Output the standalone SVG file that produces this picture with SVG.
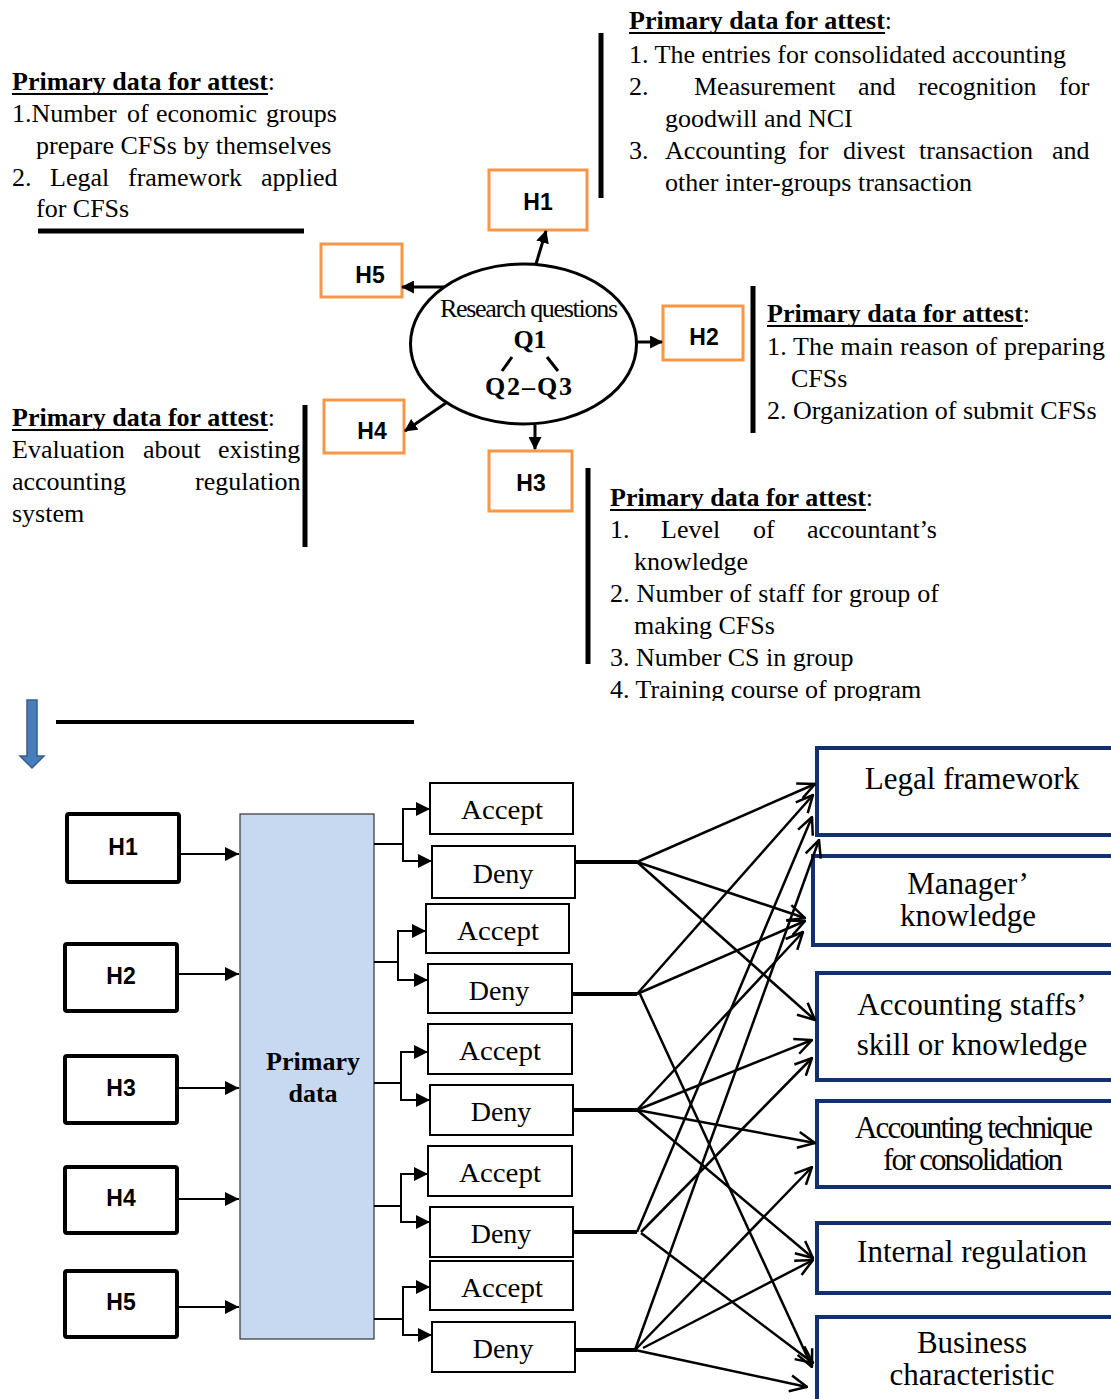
<svg xmlns="http://www.w3.org/2000/svg" width="1111" height="1399" viewBox="0 0 1111 1399">
  <style>
    .t { font-family: "Liberation Serif", "Times New Roman", serif; font-size: 26px; fill: #000; }
    .b { font-weight: bold; }
    .ul { stroke: #000; stroke-width: 2; }
    .bar { stroke: #000; stroke-width: 5; fill: none; }
    .hq { fill: #fff; stroke: #F79646; stroke-width: 3; }
    .hl { font-family: "Liberation Sans", Arial, sans-serif; font-weight: bold; font-size: 23px; fill: #000; text-anchor: middle; }
    .hb { fill: #fff; stroke: #000; stroke-width: 4; }
    .ad { fill: #fff; stroke: #000; stroke-width: 2; }
    .adt { font-family: "Liberation Serif", "Times New Roman", serif; font-size: 28px; fill: #000; text-anchor: middle; }
    .fb { fill: #fff; stroke: #12306E; stroke-width: 4; }
    .ft { font-family: "Liberation Serif", "Times New Roman", serif; font-size: 31px; fill: #000; text-anchor: middle; }
    .arr { stroke: #000; stroke-width: 3; fill: none; marker-end: url(#tri); }
    .br { stroke: #000; stroke-width: 2; fill: none; }
    .bra { stroke: #000; stroke-width: 2; fill: none; marker-end: url(#tri2); }
    .dl { stroke: #000; stroke-width: 4; fill: none; }
    .fan { stroke: #000; stroke-width: 2.5; fill: none; marker-end: url(#open); }
  </style>
  <defs>
    <marker id="tri" viewBox="0 0 12 12" refX="11" refY="6" markerWidth="13" markerHeight="13" markerUnits="userSpaceOnUse" orient="auto">
      <path d="M0,0 L12,6 L0,12 z" fill="#000"/>
    </marker>
    <marker id="tri2" viewBox="0 0 14 14" refX="14" refY="7" markerWidth="15" markerHeight="14" markerUnits="userSpaceOnUse" orient="auto">
      <path d="M0,0 L14,7 L0,14 z" fill="#000"/>
    </marker>
    <marker id="open" viewBox="0 0 20 20" refX="19" refY="10" markerWidth="20" markerHeight="20" markerUnits="userSpaceOnUse" orient="auto">
      <path d="M2,2 L19,10 L2,18" fill="none" stroke="#000" stroke-width="2.5"/>
    </marker>
    <clipPath id="cut">
      <rect x="600" y="460" width="400" height="241"/>
    </clipPath>
  </defs>

  <!-- upper panel: research questions and hypotheses -->
  <g id="note-h1">
    <text class="t" y="29"><tspan x="629" class="b">Primary data for attest</tspan>:</text>
    <line class="ul" x1="629" y1="33" x2="885" y2="33"/>
    <text class="t" x="629" y="63">1. The entries for consolidated accounting</text>
    <text class="t" y="95"><tspan x="629">2.</tspan><tspan x="694">Measurement</tspan><tspan x="858">and</tspan><tspan x="918">recognition</tspan><tspan x="1059">for</tspan></text>
    <text class="t" x="665" y="127">goodwill and NCI</text>
    <text class="t" y="159"><tspan x="629">3.</tspan><tspan x="665">Accounting</tspan><tspan x="798">for</tspan><tspan x="843">divest</tspan><tspan x="919">transaction</tspan><tspan x="1052">and</tspan></text>
    <text class="t" x="665" y="191">other inter-groups transaction</text>
    <line class="bar" x1="601" y1="33" x2="601" y2="198"/>
  </g>

  <g id="note-h5">
    <text class="t" y="90"><tspan x="12" class="b">Primary data for attest</tspan>:</text>
    <line class="ul" x1="12" y1="94" x2="268" y2="94"/>
    <text class="t" y="122"><tspan x="12">1.Number</tspan><tspan x="127">of</tspan><tspan x="156">economic</tspan><tspan x="266">groups</tspan></text>
    <text class="t" x="36" y="154">prepare CFSs by themselves</text>
    <text class="t" y="186"><tspan x="12">2.</tspan><tspan x="50">Legal</tspan><tspan x="128">framework</tspan><tspan x="261">applied</tspan></text>
    <text class="t" x="36" y="217">for CFSs</text>
    <line class="bar" x1="38" y1="231" x2="304" y2="231"/>
  </g>

  <g id="note-h2">
    <text class="t" y="322"><tspan x="767" class="b">Primary data for attest</tspan>:</text>
    <line class="ul" x1="767" y1="326" x2="1023" y2="326"/>
    <text class="t" x="767" y="355" textLength="338" lengthAdjust="spacing">1. The main reason of preparing</text>
    <text class="t" x="791" y="387">CFSs</text>
    <text class="t" x="767" y="419">2. Organization of submit CFSs</text>
    <line class="bar" x1="753" y1="286" x2="753" y2="433"/>
  </g>

  <g id="note-h4">
    <text class="t" y="426"><tspan x="12" class="b">Primary data for attest</tspan>:</text>
    <line class="ul" x1="12" y1="430" x2="268" y2="430"/>
    <text class="t" y="458"><tspan x="12">Evaluation</tspan><tspan x="143">about</tspan><tspan x="218">existing</tspan></text>
    <text class="t" y="490"><tspan x="12">accounting</tspan><tspan x="195">regulation</tspan></text>
    <text class="t" x="12" y="522">system</text>
    <line class="bar" x1="305" y1="405" x2="305" y2="547"/>
  </g>

  <g id="note-h3">
    <text class="t" y="506"><tspan x="610" class="b">Primary data for attest</tspan>:</text>
    <line class="ul" x1="610" y1="510" x2="866" y2="510"/>
    <text class="t" y="538"><tspan x="610">1.</tspan><tspan x="661">Level</tspan><tspan x="753">of</tspan><tspan x="807">accountant’s</tspan></text>
    <text class="t" x="634" y="570">knowledge</text>
    <text class="t" x="610" y="602" textLength="329" lengthAdjust="spacing">2. Number of staff for group of</text>
    <text class="t" x="634" y="634">making CFSs</text>
    <text class="t" x="610" y="666">3. Number CS in group</text>
    <text class="t" x="610" y="698" clip-path="url(#cut)">4. Training course of program</text>
    <line class="bar" x1="588" y1="468" x2="588" y2="664"/>
  </g>

  <g id="research-questions">
    <ellipse cx="523.5" cy="344" rx="113" ry="80" fill="#fff" stroke="#000" stroke-width="3"/>
    <text class="t" x="440" y="317" textLength="178" lengthAdjust="spacing">Research questions</text>
    <text class="t b" x="530" y="348" font-size="27" text-anchor="middle">Q1</text>
    <text class="t b" x="485" y="395" font-size="27" textLength="87" lengthAdjust="spacing">Q2–Q3</text>
    <line x1="512" y1="357" x2="502" y2="371" stroke="#000" stroke-width="3"/>
    <line x1="547" y1="357" x2="558" y2="371" stroke="#000" stroke-width="3"/>
  </g>

  <g id="hyp-top-h1"><rect class="hq" x="489" y="170" width="98" height="60"/><text class="hl" x="538" y="210">H1</text></g>
  <g id="hyp-top-h5"><rect class="hq" x="321" y="244" width="81" height="53"/><text class="hl" x="370" y="283">H5</text></g>
  <g id="hyp-top-h2"><rect class="hq" x="663" y="306" width="80" height="54"/><text class="hl" x="704" y="345">H2</text></g>
  <g id="hyp-top-h4"><rect class="hq" x="324" y="400" width="80" height="53"/><text class="hl" x="372" y="439">H4</text></g>
  <g id="hyp-top-h3"><rect class="hq" x="489" y="451" width="83" height="60"/><text class="hl" x="531" y="491">H3</text></g>

  <g id="top-connectors">
    <line class="arr" x1="536" y1="264" x2="546" y2="231"/>
    <line class="arr" x1="444" y1="287" x2="402" y2="287"/>
    <line class="arr" x1="636" y1="342" x2="662" y2="342"/>
    <line class="arr" x1="446" y1="403" x2="405" y2="431"/>
    <line class="arr" x1="535" y1="425" x2="535" y2="449"/>
  </g>

  <!-- transition to the lower panel -->
  <g id="down-arrow">
    <path d="M27,700 L37,700 L37,756 L44,756 L32,768 L20,756 L27,756 z" fill="#4A7EBB" stroke="#385D8A" stroke-width="1.5"/>
  </g>
  <line x1="56" y1="722" x2="414" y2="722" stroke="#000" stroke-width="4"/>

  <!-- lower panel: hypotheses -> primary data -> outcome -> factors -->
  <g id="hyp-h1"><rect class="hb" x="67" y="814" width="112" height="68" rx="2"/><text class="hl" x="123" y="855">H1</text></g>
  <g id="hyp-h2"><rect class="hb" x="65" y="944" width="112" height="67" rx="2"/><text class="hl" x="121" y="984">H2</text></g>
  <g id="hyp-h3"><rect class="hb" x="65" y="1056" width="112" height="67" rx="2"/><text class="hl" x="121" y="1096">H3</text></g>
  <g id="hyp-h4"><rect class="hb" x="65" y="1167" width="112" height="66" rx="2"/><text class="hl" x="121" y="1206">H4</text></g>
  <g id="hyp-h5"><rect class="hb" x="65" y="1271" width="112" height="66" rx="2"/><text class="hl" x="121" y="1310">H5</text></g>

  <g id="primary-data">
    <rect x="240" y="814" width="134" height="525" fill="#C6D9F1" stroke="#333" stroke-width="1.2"/>
    <text class="t b" x="313" y="1070" font-size="29" text-anchor="middle">Primary</text>
    <text class="t b" x="313" y="1102" font-size="29" text-anchor="middle">data</text>
  </g>

  <g id="accept-1"><rect class="ad" x="430" y="783" width="143" height="51"/><text class="adt" x="502" y="819" textLength="82" lengthAdjust="spacingAndGlyphs">Accept</text></g>
  <g id="deny-1"><rect class="ad" x="432" y="846" width="143" height="52"/><text class="adt" x="503" y="883">Deny</text></g>
  <g id="accept-2"><rect class="ad" x="426" y="904" width="143" height="49"/><text class="adt" x="498" y="940" textLength="82" lengthAdjust="spacingAndGlyphs">Accept</text></g>
  <g id="deny-2"><rect class="ad" x="428" y="964" width="144" height="49"/><text class="adt" x="499" y="1000">Deny</text></g>
  <g id="accept-3"><rect class="ad" x="428" y="1024" width="144" height="50"/><text class="adt" x="500" y="1060" textLength="82" lengthAdjust="spacingAndGlyphs">Accept</text></g>
  <g id="deny-3"><rect class="ad" x="430" y="1085" width="143" height="50"/><text class="adt" x="501" y="1121">Deny</text></g>
  <g id="accept-4"><rect class="ad" x="428" y="1146" width="144" height="50"/><text class="adt" x="500" y="1182" textLength="82" lengthAdjust="spacingAndGlyphs">Accept</text></g>
  <g id="deny-4"><rect class="ad" x="430" y="1207" width="143" height="50"/><text class="adt" x="501" y="1243">Deny</text></g>
  <g id="accept-5"><rect class="ad" x="430" y="1261" width="143" height="49"/><text class="adt" x="502" y="1297" textLength="82" lengthAdjust="spacingAndGlyphs">Accept</text></g>
  <g id="deny-5"><rect class="ad" x="432" y="1322" width="143" height="50"/><text class="adt" x="503" y="1358">Deny</text></g>

  <g id="factor-legal"><rect class="fb" x="817" y="748" width="310" height="87"/><text class="ft" x="972" y="789">Legal framework</text></g>
  <g id="factor-manager"><rect class="fb" x="813" y="856" width="314" height="89"/><text class="ft" x="968" y="894">Manager’</text><text class="ft" x="968" y="926">knowledge</text></g>
  <g id="factor-staff"><rect class="fb" x="817" y="973" width="310" height="107"/><text class="ft" x="972" y="1015">Accounting staffs’</text><text class="ft" x="972" y="1055">skill or knowledge</text></g>
  <g id="factor-technique"><rect class="fb" x="817" y="1101" width="310" height="86"/><text class="ft" x="974" y="1138" textLength="238" lengthAdjust="spacing">Accounting technique</text><text class="ft" x="973" y="1170" textLength="180" lengthAdjust="spacing">for consolidation</text></g>
  <g id="factor-internal"><rect class="fb" x="817" y="1223" width="310" height="70"/><text class="ft" x="972" y="1262">Internal regulation</text></g>
  <g id="factor-business"><rect class="fb" x="817" y="1317" width="310" height="100"/><text class="ft" x="972" y="1353">Business</text><text class="ft" x="972" y="1385">characteristic</text></g>

  <g id="connectors">
    <!-- hypotheses into primary data -->
    <line class="bra" x1="180" y1="854" x2="239" y2="854"/>
    <line class="bra" x1="177" y1="974" x2="239" y2="974"/>
    <line class="bra" x1="177" y1="1088" x2="239" y2="1088"/>
    <line class="bra" x1="177" y1="1199" x2="239" y2="1199"/>
    <line class="bra" x1="177" y1="1307" x2="239" y2="1307"/>

    <!-- primary data splits into accept / deny -->
    <path class="br" d="M374,844 H403"/>
    <path class="bra" d="M403,844 V809 H430"/>
    <path class="bra" d="M403,844 V861 H432"/>
    <path class="br" d="M374,962 H398"/>
    <path class="bra" d="M398,962 V931 H426"/>
    <path class="bra" d="M398,962 V980 H428"/>
    <path class="br" d="M374,1083 H401"/>
    <path class="bra" d="M401,1083 V1052 H428"/>
    <path class="bra" d="M401,1083 V1100 H430"/>
    <path class="br" d="M374,1206 H401"/>
    <path class="bra" d="M401,1206 V1174 H428"/>
    <path class="bra" d="M401,1206 V1222 H430"/>
    <path class="br" d="M374,1319 H403"/>
    <path class="bra" d="M403,1319 V1287 H430"/>
    <path class="bra" d="M403,1319 V1335 H432"/>

    <!-- deny outcomes -->
    <line class="dl" x1="575" y1="862" x2="637" y2="862"/>
    <line class="dl" x1="572" y1="994" x2="637" y2="994"/>
    <line class="dl" x1="573" y1="1110" x2="637" y2="1110"/>
    <line class="dl" x1="573" y1="1232" x2="637" y2="1232"/>
    <line class="dl" x1="575" y1="1350" x2="637" y2="1350"/>

    <!-- deny 1 -->
    <line class="fan" x1="637" y1="862" x2="815" y2="784"/>
    <line class="fan" x1="637" y1="862" x2="805" y2="918"/>
    <line class="fan" x1="637" y1="862" x2="815" y2="1020"/>
    <!-- deny 2 -->
    <line class="fan" x1="637" y1="994" x2="813" y2="795"/>
    <line class="fan" x1="637" y1="994" x2="805" y2="921"/>
    <line class="fan" x1="640" y1="994" x2="812" y2="1367"/>
    <!-- deny 3 -->
    <line class="fan" x1="637" y1="1110" x2="803" y2="932"/>
    <line class="fan" x1="637" y1="1110" x2="812" y2="1040"/>
    <line class="fan" x1="637" y1="1110" x2="815" y2="1143"/>
    <line class="fan" x1="637" y1="1110" x2="813" y2="1258"/>
    <!-- deny 4 -->
    <line class="fan" x1="637" y1="1232" x2="812" y2="817"/>
    <line class="fan" x1="641" y1="1232" x2="812" y2="1058"/>
    <line class="fan" x1="641" y1="1233" x2="813" y2="1363"/>
    <!-- deny 5 -->
    <line class="fan" x1="635" y1="1350" x2="819" y2="840"/>
    <line class="fan" x1="635" y1="1350" x2="812" y2="1167"/>
    <line class="fan" x1="643" y1="1348" x2="813" y2="1260"/>
    <line class="fan" x1="635" y1="1350" x2="807" y2="1387"/>
  </g>
</svg>
